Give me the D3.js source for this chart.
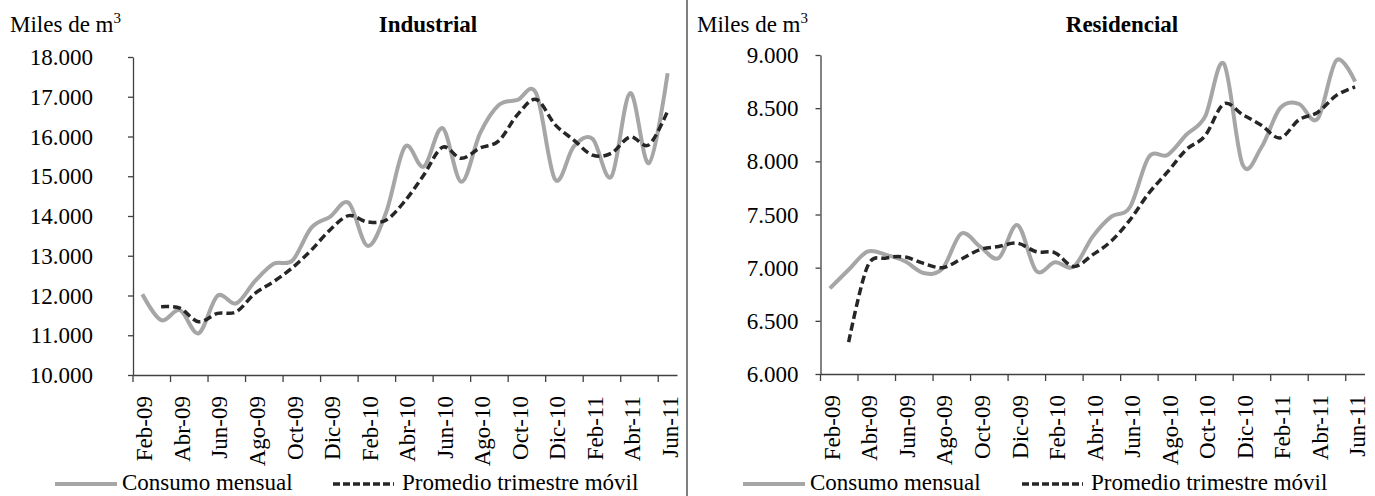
<!DOCTYPE html>
<html><head><meta charset="utf-8">
<script src="https://cdn.jsdelivr.net/npm/d3@7"></script>
<style>
body{margin:0;background:#fff;}
text{font-family:"Liberation Serif","Times New Roman",serif;fill:#000;}
</style></head>
<body><svg id="c" width="1375" height="496"></svg>
<script>
const months = ["Feb-09","Mar-09","Abr-09","May-09","Jun-09","Jul-09","Ago-09","Sep-09","Oct-09","Nov-09","Dic-09",
"Ene-10","Feb-10","Mar-10","Abr-10","May-10","Jun-10","Jul-10","Ago-10","Sep-10","Oct-10","Nov-10","Dic-10",
"Ene-11","Feb-11","Mar-11","Abr-11","May-11","Jun-11"];
const tickLabels = ["Feb-09","Abr-09","Jun-09","Ago-09","Oct-09","Dic-09","Feb-10","Abr-10","Jun-10","Ago-10","Oct-10","Dic-10","Feb-11","Abr-11","Jun-11"];

const indConsumo = [12030,11380,11630,11050,11990,11800,12360,12800,12880,13700,13980,14330,13250,14100,15740,15240,16210,14860,16080,16790,16920,17080,14920,15750,15940,14990,17090,15330,17590];
const indPromedio = [null,11720,11680,11340,11550,11590,12050,12350,12700,13140,13650,14010,13850,13900,14380,15030,15730,15450,15710,15890,16550,16930,16300,15910,15530,15580,15990,15790,16640];
const indTicks = [10000,11000,12000,13000,14000,15000,16000,17000,18000];

const resConsumo = [6805,6980,7150,7120,7060,6950,6990,7320,7200,7090,7400,6970,7050,7010,7290,7480,7570,8040,8060,8250,8420,8920,7970,8130,8500,8540,8400,8950,8750];
const resPromedio = [null,6300,7010,7090,7100,7040,7000,7080,7170,7200,7230,7150,7140,7010,7120,7250,7450,7700,7900,8110,8240,8540,8440,8340,8220,8390,8460,8620,8700];
const resTicks = [6000,6500,7000,7500,8000,8500,9000];

const fmt = d3.formatLocale({decimal:",",thousands:".",grouping:[3],currency:["",""]}).format(",.0f");
const svg = d3.select("#c");
const axisColor = "#404040";
const FS = 23;

function panel(o){
  const g = svg.append("g");
  const x = d3.scaleBand().domain(months).range([o.x0,o.x1]).padding(0);
  const bw = x.bandwidth();
  const y = d3.scaleLinear().domain([o.ticks[0],o.ticks[o.ticks.length-1]]).range([o.yb,o.yt]);
  const cx = m => x(m)+bw/2;

  // y axis
  const ya = g.append("g").attr("transform",`translate(${o.x0},0)`)
    .call(d3.axisLeft(y).tickValues(o.ticks).tickFormat(fmt).tickSize(5).tickSizeOuter(0));
  ya.select(".domain").attr("stroke",axisColor).attr("stroke-width",1.3);
  ya.selectAll(".tick line").attr("stroke",axisColor).attr("stroke-width",1.3);
  ya.selectAll(".tick text").attr("font-size",FS).attr("font-family","Liberation Serif").attr("fill","#000").attr("dy","0.33em").attr("x",-o.labelGap);

  // x axis
  const xa = g.append("g").attr("transform",`translate(0,${o.yb})`)
    .call(d3.axisBottom(x).tickValues(tickLabels).tickSize(7).tickSizeOuter(0));
  xa.select(".domain").attr("stroke",axisColor).attr("stroke-width",1.3);
  xa.selectAll(".tick line").attr("stroke",axisColor).attr("stroke-width",1.3).attr("transform",`translate(${-bw/2},0)`);
  xa.selectAll(".tick text").attr("font-size",FS).attr("font-family","Liberation Serif").attr("fill","#000")
    .attr("text-anchor","end").attr("transform","rotate(-90)").attr("x",-21).attr("y",2).attr("dy","0.35em");

  // lines
  const idx = d3.range(months.length);
  const line = arr => d3.line().defined(i=>arr[i]!=null).x(i=>cx(months[i])).y(i=>y(arr[i])).curve(d3.curveCatmullRom.alpha(0));
  g.append("path").attr("d",line(o.consumo)(idx)).attr("fill","none").attr("stroke","#a6a6a6").attr("stroke-width",4).attr("stroke-linejoin","round");
  g.append("path").attr("d",line(o.promedio)(idx)).attr("fill","none").attr("stroke","#262626").attr("stroke-width",3.5).attr("stroke-dasharray","8,4");

  // titles
  g.append("text").attr("x",o.unitX).attr("y",32).attr("font-size",FS)
    .text("Miles de m").append("tspan").attr("font-size",15).attr("dy",-9).text("3");
  g.append("text").attr("x",o.titleX).attr("y",32).attr("font-size",FS).attr("font-weight","bold").attr("text-anchor","middle").text(o.title);

  // legend
  const ly = 484;
  g.append("line").attr("x1",o.leg1).attr("x2",o.leg1+62).attr("y1",ly).attr("y2",ly).attr("stroke","#a6a6a6").attr("stroke-width",4);
  g.append("text").attr("x",o.leg1+67).attr("y",489.5).attr("font-size",FS).text("Consumo mensual");
  g.append("line").attr("x1",o.leg2).attr("x2",o.leg2+61).attr("y1",ly).attr("y2",ly).attr("stroke","#262626").attr("stroke-width",3.5).attr("stroke-dasharray","7,3");
  g.append("text").attr("x",o.leg2+69).attr("y",489.5).attr("font-size",FS).text("Promedio trimestre móvil");
}

panel({x0:133,x1:677,yt:57,yb:375,ticks:indTicks,consumo:indConsumo,promedio:indPromedio,
  title:"Industrial",titleX:428,unitX:10,labelGap:40,leg1:55,leg2:333});
panel({x0:820.5,x1:1364.5,yt:55,yb:374,ticks:resTicks,consumo:resConsumo,promedio:resPromedio,
  title:"Residencial",titleX:1122,unitX:697,labelGap:22,leg1:743,leg2:1022});

svg.append("line").attr("x1",687).attr("x2",687).attr("y1",0).attr("y2",496).attr("stroke","#000").attr("stroke-width",1);
</script></body></html>
